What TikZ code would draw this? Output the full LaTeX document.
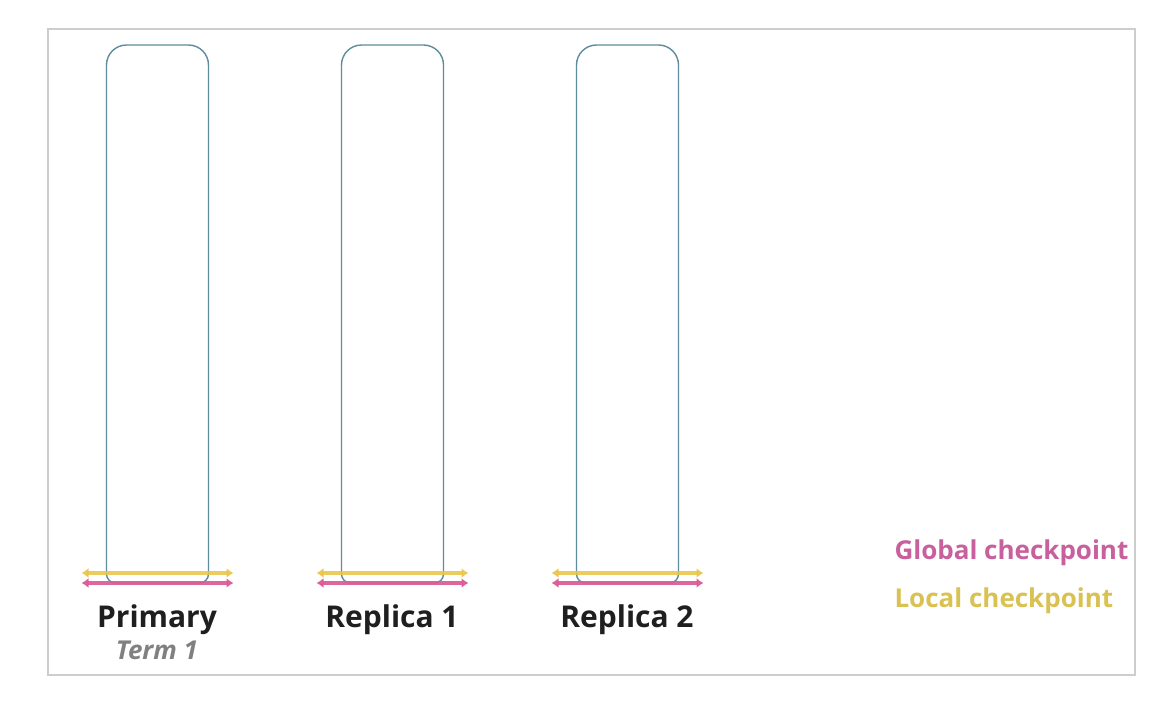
\documentclass[tikz,border=0pt]{standalone}
\usepackage{fontspec}
\setmainfont{Open Sans}
\usetikzlibrary{arrows.meta}
\definecolor{boxc}{HTML}{5F8C9C}
\definecolor{pinkc}{HTML}{DC5A96}
\definecolor{yelc}{HTML}{EBC443}
\definecolor{pinktxt}{HTML}{C8609E}
\definecolor{yeltxt}{HTML}{D9C252}
\definecolor{framec}{HTML}{CDCDCD}
\tikzset{
  colbox/.style={draw=boxc, line width=1.4pt},
  chkbar/.style={line width=3.5pt, {Latex[length=7pt,width=10pt]}-{Latex[length=7pt,width=10pt]}},
  lbl/.style={font=\bfseries\fontsize{30}{34}\selectfont, text=black!88, anchor=base},
  termlbl/.style={font=\bfseries\itshape\fontsize{26}{30}\selectfont, text=black!50, anchor=base},
  leg/.style={font=\bfseries\fontsize{26}{30}\selectfont, anchor=base west},
}
\begin{document}
\begin{tikzpicture}[x=1pt,y=-1pt]
\useasboundingbox (0,0) rectangle (1162,702);
\fill[white] (0,0) rectangle (1162,702);
\draw[framec, line width=2pt] (48,29) rectangle (1135,675);
\foreach \n/\cx in {p/157.5, ra/392.5, rb/627.5}{
  \draw[colbox, rounded corners=9] (\cx,583) -- (\cx-51,583) [rounded corners=20] -- (\cx-51,45) -- (\cx+51,45) [rounded corners=9] -- (\cx+51,583) -- (\cx,583);
  \coordinate (\n yl) at (\cx-76,573);
  \coordinate (\n yr) at (\cx+76,573);
  \coordinate (\n gl) at (\cx-76,583);
  \coordinate (\n gr) at (\cx+76,583);
  \draw[chkbar, yelc, opacity=0.85] (\n yl) -- (\n yr);
  \draw[chkbar, pinkc, opacity=0.92] (\n gl) -- (\n gr);
}
\node[lbl] (lp) at (157,627) {Primary};
\node[termlbl] (lt) at (157,659) {Term 1};
\node[lbl] (l1) at (392,627) {Replica 1};
\node[lbl] (l2) at (627,627) {Replica 2};
\node[leg, text=pinktxt] (lg) at (891,559) {Global checkpoint};
\node[leg, text=yeltxt] (ll) at (891,607) {Local checkpoint};
\end{tikzpicture}
\end{document}
